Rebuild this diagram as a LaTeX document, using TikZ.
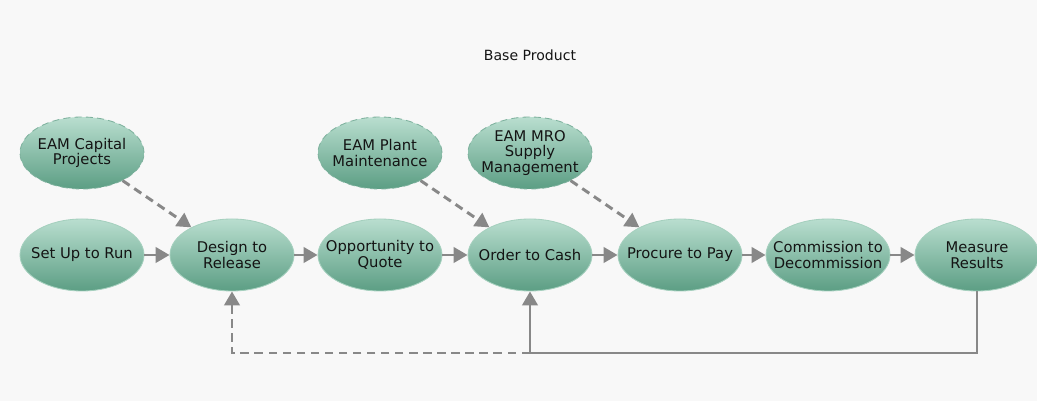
\documentclass[tikz,border=0pt]{standalone}
\usepackage{fontspec}
\setmainfont{DejaVu Sans}
\usetikzlibrary{shapes.geometric,arrows.meta}

\definecolor{paper}{RGB}{248,248,248}
\definecolor{leaftop}{RGB}{185,222,207}
\definecolor{leafbot}{RGB}{92,158,132}
\definecolor{leafrim}{RGB}{165,208,190}
\definecolor{linkgray}{RGB}{136,136,136}
\definecolor{inkdark}{RGB}{20,20,20}

\tikzset{
	stage/.style={shape=ellipse, top color=leaftop, bottom color=leafbot, draw=leafrim,
		line width=0.6pt, minimum width=3.1cm, minimum height=1.8cm, inner sep=-8pt,
		align=center, text=inkdark, font=\fontsize{10.5}{11}\selectfont},
	module/.style={stage, draw=leafbot!80, dash pattern=on 5pt off 3pt},
	flow/.style={-{Triangle[length=10pt,width=11pt]}, color=linkgray, line width=2.1pt},
	optional/.style={flow, dash pattern=on 6pt off 4pt},
}

\begin{document}
\begin{tikzpicture}
	
	\fill[paper] (0, 0) rectangle (25.925, 10.025);
	\useasboundingbox (0, 0) rectangle (25.925, 10.025);
	
	\node[text=inkdark, font=\fontsize{10}{12}\selectfont] (base) at (13.25, 8.65) {Base Product};
	
	\node[module] (cap) at (2.05, 6.2)   {EAM Capital\\Projects};
	\node[module] (pm)  at (9.5, 6.2)    {EAM Plant\\Maintenance};
	\node[module] (mro) at (13.25, 6.2)  {EAM MRO\\Supply\\Management};
	
	\node[stage] (sur) at (2.05, 3.65)   {Set Up to Run};
	\node[stage] (dtr) at (5.8, 3.65)    {Design to\\Release};
	\node[stage] (otq) at (9.5, 3.65)    {Opportunity to\\Quote};
	\node[stage] (otc) at (13.25, 3.65)  {Order to Cash};
	\node[stage] (ptp) at (17, 3.65)     {Procure to Pay};
	\node[stage] (ctd) at (20.7, 3.65)   {Commission to\\Decommission};
	\node[stage] (mr)  at (24.425, 3.65) {Measure\\Results};
	
	\coordinate (back) at (13.25, 1.2);
	
	\path[flow] (sur) edge (dtr);
	\path[flow] (dtr) edge (otq);
	\path[flow] (otq) edge (otc);
	\path[flow] (otc) edge (ptp);
	\path[flow] (ptp) edge (ctd);
	\path[flow] (ctd) edge (mr);
	
	\path[optional] (cap) edge (dtr);
	\path[optional] (pm) edge (otc);
	\path[optional] (mro) edge (ptp);
	
	\draw[flow] (mr.south) |- (back) -- (otc.south);
	\draw[optional] (back) -| (dtr.south);
	
\end{tikzpicture}
\end{document}
